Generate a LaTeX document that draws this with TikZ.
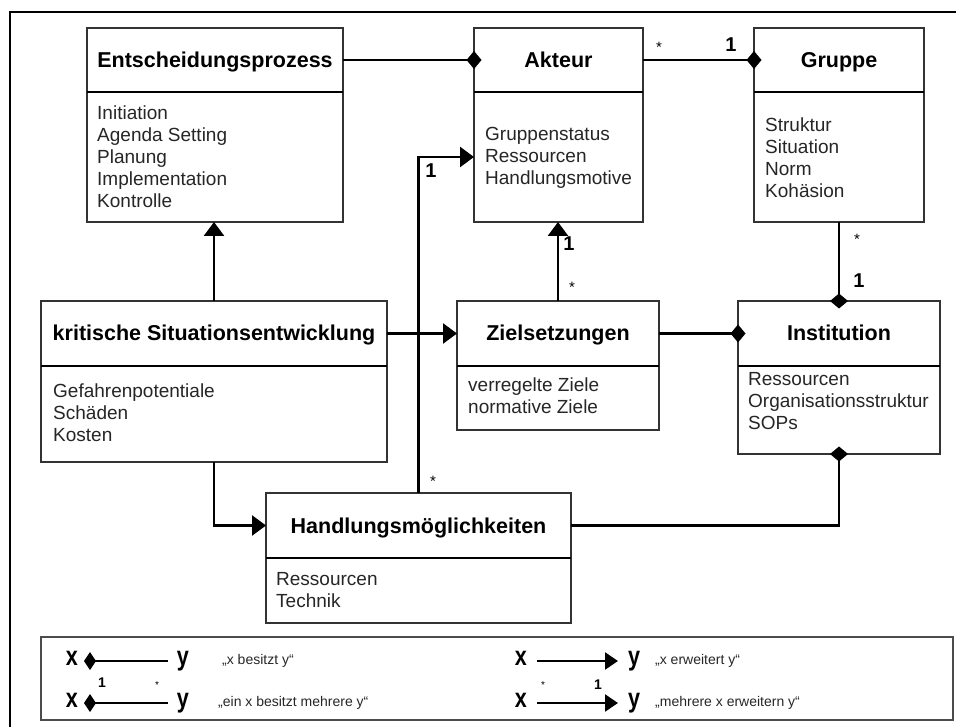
\documentclass[tikz,border=0pt]{standalone}
\usepackage{fontspec}
\setmainfont{Liberation Sans}
\usetikzlibrary{arrows.meta}
\begin{document}
\begin{tikzpicture}[x=1pt,y=-1pt,
  outline/.style={line width=2.8pt, black},
  head/.style={draw=black!80, line width=1.3pt, fill=white, anchor=north west,
    inner sep=0pt, outer sep=0pt, font=\fontsize{21.5}{24}\selectfont\bfseries,
    text height=15pt, text depth=0pt},
  bodybox/.style={draw=black!80, line width=1.3pt, fill=white, anchor=north west,
    inner sep=0pt, outer sep=0pt},
  items/.style={anchor=west, align=left, inner sep=0pt, text=black!85,
    font=\fontsize{19}{22}\selectfont},
  divider/.style={line width=2.2pt, black},
  conn/.style={line width=2.5pt, black},
  tri/.style={-{Triangle[length=14pt,width=20pt]}},
  dia/.style={-{Diamond[length=15pt,width=18pt]}, shorten >=-7.5pt},
  one/.style={font=\fontsize{20}{20}\selectfont\bfseries, inner sep=0pt},
  many/.style={font=\fontsize{15}{15}\selectfont, inner sep=0pt},
  legbox/.style={draw=black!70, line width=1.6pt, anchor=north west, inner sep=0pt, outer sep=0pt},
  lxy/.style={anchor=base, inner sep=0pt, font=\fontsize{27}{27}\selectfont\bfseries},
  ltext/.style={anchor=west, inner sep=0pt, text=black!85, font=\fontsize{14}{15}\selectfont},
  lone/.style={font=\fontsize{14}{14}\selectfont\bfseries, inner sep=0pt},
  lmany/.style={font=\fontsize{10}{10}\selectfont, inner sep=0pt},
  ldia/.style={line width=2.3pt, {Diamond[length=12pt,width=18pt]}-},
  ltri/.style={line width=2.3pt, -{Triangle[length=13pt,width=17pt]}},
]
\useasboundingbox (0,0) rectangle (956,727);
\clip (0,0) rectangle (956,727);

% frame around the whole model
\draw[outline] (10,760) -- (10,12) -- (980,12);

% classes, top row
\node[head, minimum width=256pt, minimum height=64pt] (ent) at (87,28) {Entscheidungsprozess};
\node[bodybox, minimum width=256pt, minimum height=130pt] (ent-b) at (ent.south west) {};
\node[items] (ent-t) at (97,159) {\strut Initiation\\Agenda Setting\\Planung\\Implementation\\Kontrolle\strut};

\node[head, minimum width=169pt, minimum height=64pt] (akt) at (474,28) {Akteur};
\node[bodybox, minimum width=169pt, minimum height=130pt] (akt-b) at (akt.south west) {};
\node[items] (akt-t) at (485,158.5) {\strut Gruppenstatus\\Ressourcen\\Handlungsmotive\strut};

\node[head, minimum width=170pt, minimum height=64pt] (grp) at (754,28) {Gruppe};
\node[bodybox, minimum width=170pt, minimum height=130pt] (grp-b) at (grp.south west) {};
\node[items] (grp-t) at (765,160) {\strut Struktur\\Situation\\Norm\\Kohäsion\strut};

% classes, middle row
\node[head, minimum width=346pt, minimum height=65pt] (krit) at (41,301) {kritische Situationsentwicklung};
\node[bodybox, minimum width=346pt, minimum height=96pt] (krit-b) at (krit.south west) {};
\node[items] (krit-t) at (53,415.5) {\strut Gefahrenpotentiale\\Schäden\\Kosten\strut};

\node[head, minimum width=202pt, minimum height=65pt] (ziel) at (457,301) {Zielsetzungen};
\node[bodybox, minimum width=202pt, minimum height=64pt] (ziel-b) at (ziel.south west) {};
\node[items] (ziel-t) at (468,398.5) {\strut verregelte Ziele\\normative Ziele\strut};

\node[head, minimum width=202pt, minimum height=65pt] (inst) at (738,301) {Institution};
\node[bodybox, minimum width=202pt, minimum height=88pt] (inst-b) at (inst.south west) {};
\node[items] (inst-t) at (748,403.5) {\strut Ressourcen\\Organisationsstruktur\\SOPs\strut};

% class, bottom row
\node[head, minimum width=305pt, minimum height=65pt] (handl) at (266,493) {Handlungsmöglichkeiten};
\node[bodybox, minimum width=305pt, minimum height=65pt] (handl-b) at (handl.south west) {};
\node[items] (handl-t) at (276,592.5) {\strut Ressourcen\\Technik\strut};

\foreach \n in {ent,akt,grp,krit,ziel,inst,handl}
  \draw[divider] (\n.south west) -- (\n.south east);

% relations
\draw[conn,dia] (ent.east) -- (akt.west);
\draw[conn,dia] (akt.east) -- (grp.west);
\draw[conn,tri] (krit.north) -- (krit.north |- ent-b.south);
\draw[conn,tri] (ziel.north) -- (ziel.north |- akt-b.south);
\draw[conn,dia] (grp-b.south) -- (grp-b.south |- inst.north);
\draw[conn,tri] (krit.east) -- (ziel.west);
\draw[conn,dia] (ziel.east) -- (inst.west);
\draw[conn,tri] (krit-b.south) |- (handl.west);
\draw[conn,tri] (handl.north) |- (akt-b.west);
\draw[conn,dia] (handl.east) -| (inst-b.south);

% multiplicities
\node[many] (m1) at (659,47) {*};
\node[one]  (o1) at (731,45) {1};
\node[one]  (o2) at (431,171) {1};
\node[many] (m2) at (433,481) {*};
\node[one]  (o3) at (569,244) {1};
\node[many] (m3) at (572,287) {*};
\node[many] (m4) at (857,239) {*};
\node[one]  (o4) at (859,281) {1};

% legend
\node[legbox, minimum width=912pt, minimum height=83pt] (leg) at (41,637) {};

\node[lxy] (lx1) at (72,665) {\scalebox{0.8}[1]{x}};
\coordinate (la1) at (84,661);
\coordinate (lb1) at (168,661);
\draw[ldia] (la1) -- (lb1);
\node[lxy] (ly1) at (183,665) {\scalebox{0.8}[1]{y}};
\node[ltext] (lt1) at (222,661) {„x besitzt y“};

\node[lxy] (lx2) at (72,707) {\scalebox{0.8}[1]{x}};
\coordinate (la2) at (84,703);
\coordinate (lb2) at (168,703);
\draw[ldia] (la2) -- (lb2);
\node[lone] (lo2) at (102,683) {1};
\node[lmany] (lm2) at (157,685) {*};
\node[lxy] (ly2) at (183,707) {\scalebox{0.8}[1]{y}};
\node[ltext] (lt2) at (218,703) {„ein x besitzt mehrere y“};

\node[lxy] (lx3) at (521,665) {\scalebox{0.8}[1]{x}};
\coordinate (la3) at (537,661);
\coordinate (lb3) at (618,661);
\draw[ltri] (la3) -- (lb3);
\node[lxy] (ly3) at (634,665) {\scalebox{0.8}[1]{y}};
\node[ltext] (lt3) at (655,661) {„x erweitert y“};

\node[lxy] (lx4) at (521,707) {\scalebox{0.8}[1]{x}};
\coordinate (la4) at (537,703);
\coordinate (lb4) at (618,703);
\draw[ltri] (la4) -- (lb4);
\node[lmany] (lm4) at (543,685) {*};
\node[lone] (lo4) at (598,685) {1};
\node[lxy] (ly4) at (634,707) {\scalebox{0.8}[1]{y}};
\node[ltext] (lt4) at (655,703) {„mehrere x erweitern y“};
\end{tikzpicture}
\end{document}
